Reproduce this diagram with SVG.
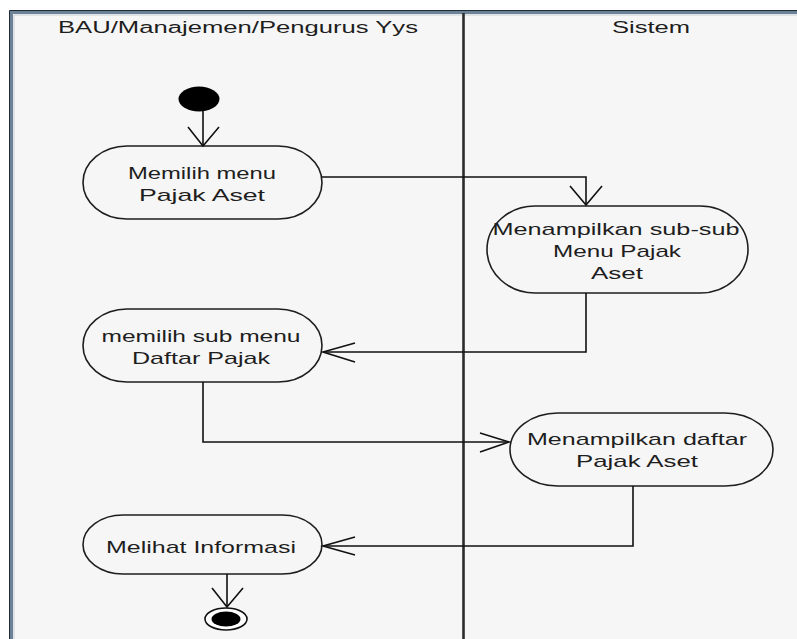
<svg xmlns="http://www.w3.org/2000/svg" width="797" height="639" viewBox="0 0 797 639">
  <style>
    .lbl { font-family: "Liberation Sans", Arial, sans-serif; font-size: 17px; fill: #1e1e1e; text-anchor: middle; }
    .hdr { font-family: "Liberation Sans", Arial, sans-serif; font-size: 16px; fill: #1e1e1e; }
    .act { fill: none; stroke: #1e1e1e; stroke-width: 1.6; }
    .flow { fill: none; stroke: #111; stroke-width: 1.6; }
  </style>

  <!-- page and swimlane frame -->
  <rect x="0" y="0" width="797" height="639" fill="#ffffff"/>
  <rect x="11" y="12" width="786" height="627" fill="#f6f6f6"/>
  <path d="M11.5 639 V12.5 H797" fill="none" stroke="#6c8296" stroke-width="3"/>
  <path d="M9.5 639 V10.5 H797" fill="none" stroke="#1f2a33" stroke-width="1"/>
  <path d="M14 639 V15 H797" fill="none" stroke="#c9d0d6" stroke-width="1"/>
  <line x1="463.5" y1="13" x2="463.5" y2="639" stroke="#2b2b2b" stroke-width="2.6"/>

  <!-- lane headers -->
  <text class="hdr" x="58" y="33" textLength="360" lengthAdjust="spacingAndGlyphs">BAU/Manajemen/Pengurus Yys</text>
  <text class="hdr" x="612" y="33" textLength="78" lengthAdjust="spacingAndGlyphs">Sistem</text>

  <!-- initial node -->
  <g id="start">
    <ellipse cx="199" cy="99" rx="20.5" ry="12.5" fill="#000"/>
  </g>

  <g id="memilih-menu">
    <rect class="act" x="83" y="146" width="239" height="73" rx="44" ry="36.5"/>
    <text class="lbl" x="202" y="179" textLength="148" lengthAdjust="spacingAndGlyphs">Memilih menu</text>
    <text class="lbl" x="202" y="201" textLength="126" lengthAdjust="spacingAndGlyphs">Pajak Aset</text>
  </g>

  <g id="menampilkan-submenu">
    <rect class="act" x="487" y="206" width="261" height="87" rx="48" ry="43.5"/>
    <text class="lbl" x="616" y="235" textLength="247" lengthAdjust="spacingAndGlyphs">Menampilkan sub-sub</text>
    <text class="lbl" x="617" y="257" textLength="128" lengthAdjust="spacingAndGlyphs">Menu Pajak</text>
    <text class="lbl" x="617" y="279" textLength="52" lengthAdjust="spacingAndGlyphs">Aset</text>
  </g>

  <g id="memilih-sub-menu">
    <rect class="act" x="83" y="309" width="239" height="73" rx="44" ry="36.5"/>
    <text class="lbl" x="201" y="342" textLength="199" lengthAdjust="spacingAndGlyphs">memilih sub menu</text>
    <text class="lbl" x="201" y="364" textLength="138" lengthAdjust="spacingAndGlyphs">Daftar Pajak</text>
  </g>

  <g id="menampilkan-daftar">
    <rect class="act" x="510" y="413" width="263" height="73" rx="48" ry="36.5"/>
    <text class="lbl" x="637" y="445" textLength="220" lengthAdjust="spacingAndGlyphs">Menampilkan daftar</text>
    <text class="lbl" x="637" y="467" textLength="122" lengthAdjust="spacingAndGlyphs">Pajak Aset</text>
  </g>

  <g id="melihat-informasi">
    <rect class="act" x="83" y="515" width="239" height="59" rx="40" ry="29.5"/>
    <text class="lbl" x="201" y="553" textLength="190" lengthAdjust="spacingAndGlyphs">Melihat Informasi</text>
  </g>

  <!-- final node -->
  <g id="end">
    <ellipse cx="226" cy="619" rx="21" ry="11" fill="#fff" stroke="#111" stroke-width="1.6"/>
    <ellipse cx="226" cy="619" rx="14.5" ry="7.5" fill="#000"/>
  </g>

  <!-- control flows -->
  <g id="flows">
    <path class="flow" d="M203 111 V146"/>
    <path class="flow" d="M188 127 L203 146 L219 127"/>

    <path class="flow" d="M322 177 H586 V205"/>
    <path class="flow" d="M570 186 L586 205 L602 186"/>

    <path class="flow" d="M586 293 V352 H323"/>
    <path class="flow" d="M355 343 L323 352 L355 362"/>

    <path class="flow" d="M203 382 V442 H509"/>
    <path class="flow" d="M480 433 L509 442 L480 452"/>

    <path class="flow" d="M633 486 V546 H323"/>
    <path class="flow" d="M355 537 L323 546 L355 555"/>

    <path class="flow" d="M227 574 V607"/>
    <path class="flow" d="M212 588 L227 607 L243 588"/>
  </g>
</svg>
